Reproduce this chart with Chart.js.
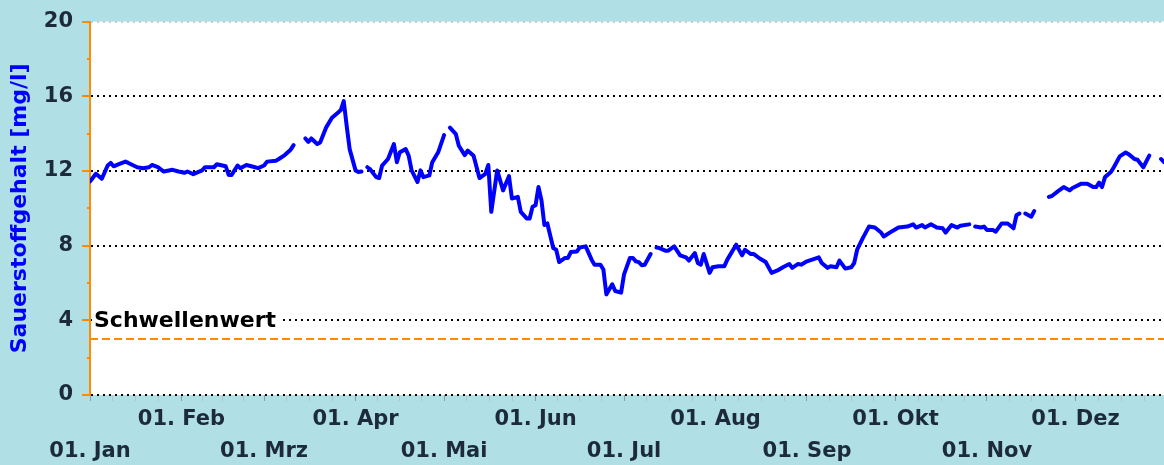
<!DOCTYPE html>
<html><head><meta charset="utf-8">
<script src="https://cdn.jsdelivr.net/npm/chart.js@4.4.1/dist/chart.umd.min.js"></script>
<style>html,body{margin:0;padding:0;background:#b0e0e6;} #wrap{width:1164px;height:465px;position:relative;}</style>
</head><body><div id="wrap"><canvas id="c"></canvas></div>
<script>
// Day of year (0 = 01. Jan) and measured oxygen content [mg/l]; null = no data (gap)
const days = [0,2,4,6,7,8,10,12,13,16,18,20,21,23,25,28,30,32,33,35,38,39,42,43,46,47,48,50,51,53,55,57,59,60,63,64,66,68,69,71,
73,74,75,77,78,80,82,84,85,86,87,88,90,91,92,93,
94,95,97,98,99,101,103,104,105,107,108,109,111,112,113,115,116,118,120,121,
122,124,125,127,128,130,132,134,135,136,138,140,142,143,145,146,148,149,150,151,152,153,154,155,157,158,159,161,162,163,165,166,168,170,171,173,174,175,177,178,180,181,183,184,185,186,187,188,190,191,
192,193,195,196,198,200,202,203,205,206,207,208,210,211,213,215,216,219,221,222,224,225,227,229,231,233,235,237,238,240,241,243,247,248,250,251,253,254,256,258,259,260,262,264,266,268,269,272,274,277,279,280,282,283,285,287,289,290,292,294,295,298,299,
300,302,303,304,306,307,309,311,313,314,315,316,
317,319,320,322,
325,326,328,330,332,333,336,338,340,341,342,343,344,346,347,349,351,352,354,355,357,359,360,
363,364];
const oxygen = [11.44,11.85,11.58,12.29,12.43,12.25,12.38,12.5,12.43,12.2,12.15,12.2,12.32,12.2,11.97,12.06,11.97,11.9,11.97,11.83,12.03,12.2,12.2,12.36,12.25,11.79,11.79,12.29,12.15,12.32,12.24,12.15,12.29,12.5,12.55,12.64,12.85,13.14,13.38,null,
13.74,13.56,13.74,13.44,13.53,14.32,14.85,15.12,15.26,15.74,14.41,13.17,12.03,11.94,11.97,null,
12.2,12.08,11.67,11.62,12.29,12.64,13.44,12.47,13.0,13.17,12.82,12.03,11.41,12.03,11.67,11.76,12.47,13.0,13.92,null,
14.32,13.97,13.35,12.85,13.09,12.82,11.62,11.85,12.32,9.81,12.03,10.96,11.72,10.52,10.61,9.81,9.46,9.46,10.08,10.16,11.14,10.44,9.11,9.19,7.87,7.78,7.12,7.34,7.34,7.66,7.69,7.9,7.96,7.25,6.98,6.98,6.72,5.39,5.93,5.57,5.48,6.46,7.34,7.34,7.16,7.12,6.95,6.98,7.55,null,
7.9,7.87,7.73,7.73,7.96,7.48,7.37,7.2,7.6,7.07,6.98,7.55,6.54,6.84,6.9,6.9,7.25,8.05,7.48,7.78,7.55,7.55,7.31,7.12,6.54,6.67,6.86,7.02,6.81,7.02,6.98,7.16,7.37,7.07,6.81,6.9,6.84,7.2,6.77,6.84,7.07,7.78,8.43,9.02,8.97,8.72,8.49,8.79,8.97,9.02,9.14,8.97,9.1,8.97,9.14,8.97,8.93,8.7,9.1,8.97,9.07,9.14,null,
9.02,8.97,9.02,8.84,8.84,8.75,9.19,9.19,8.93,9.63,9.72,null,
9.72,9.55,9.85,null,
10.61,10.66,10.91,11.14,10.96,11.09,11.32,11.32,11.14,11.14,11.37,11.14,11.67,11.94,12.2,12.78,12.99,12.9,12.64,12.6,12.2,12.82,null,
12.64,12.47];
const monthStartDays = [0,31,59,90,120,151,181,212,243,273,304,334];
const monthLengths = [31,28,31,30,31,30,31,31,30,31,30,31];
const monthLabels = ['01. Jan','01. Feb','01. Mrz','01. Apr','01. Mai','01. Jun','01. Jul','01. Aug','01. Sep','01. Okt','01. Nov','01. Dez'];
const yMin = 0, yMax = 20, yMinorStep = 2, yLabelStep = 4;
const xMin = 0, xMax = 364;
const thresholdValue = 3;
const thresholdLabel = 'Schwellenwert';
const thresholdLabelAt = 4;
const yAxisTitle = 'Sauerstoffgehalt [mg/l]';

const FONT = '"DejaVu Sans", Verdana, sans-serif';
const TXT = '#1c2a3b';
const ORANGE = '#ff8c00';

const bgPlugin = {
  id: 'bg',
  beforeDraw(chart) {
    const {ctx, chartArea: a} = chart;
    ctx.save();
    ctx.fillStyle = '#b0e0e6';
    ctx.fillRect(0, 0, chart.width, chart.height);
    ctx.fillStyle = '#ffffff';
    ctx.fillRect(a.left, a.top, a.right - a.left, a.bottom - a.top);
    ctx.restore();
  }
};
const labelPlugin = {
  id: 'thrLabel',
  afterDatasetsDraw(chart) {
    const {ctx, chartArea: a, scales} = chart;
    const y = scales.y.getPixelForValue(thresholdLabelAt);
    ctx.save();
    ctx.font = 'bold 22px ' + FONT;
    const w = ctx.measureText(thresholdLabel).width;
    ctx.fillStyle = '#ffffff';
    ctx.fillRect(a.left + 2, y - 8, w + 6, 16);
    ctx.fillStyle = '#000000';
    ctx.textBaseline = 'middle';
    ctx.fillText(thresholdLabel, a.left + 4, y + 1);
    ctx.restore();
  }
};

new Chart(document.getElementById('c'), {
  type: 'line',
  data: {
    datasets: [
      {
        data: days.map((d, i) => ({x: d, y: oxygen[i]})),
        borderColor: '#0000ff', borderWidth: 4, pointRadius: 0,
        spanGaps: false, tension: 0, borderJoinStyle: 'round', borderCapStyle: 'round'
      },
      {
        data: [{x: xMin, y: thresholdValue}, {x: xMax, y: thresholdValue}],
        borderColor: ORANGE, borderWidth: 2, borderDash: [8, 4], pointRadius: 0
      }
    ]
  },
  options: {
    responsive: true, maintainAspectRatio: false, animation: false, events: [],
    layout: {padding: {top: 18, left: 0, right: 0, bottom: 0}},
    plugins: {legend: {display: false}, tooltip: {enabled: false}},
    scales: {
      x: {
        type: 'linear', min: xMin, max: xMax,
        border: {display: false},
        grid: {
          drawOnChartArea: false, drawTicks: true, tickLength: 6, lineWidth: 1,
          tickColor: (c) => (c.tick && monthStartDays.includes(c.tick.value)) ? '#999999' : '#c0c0c0'
        },
        afterBuildTicks: (s) => {
          const t = [];
          monthStartDays.forEach((m, i) => {
            for (let q = 0; q < 4; q++) t.push({value: m + q * monthLengths[i] / 4});
          });
          s.ticks = t.filter(o => o.value <= xMax);
        },
        ticks: {
          autoSkip: false, maxRotation: 0, minRotation: 0, padding: 3, color: TXT,
          font: {family: FONT, weight: 'bold', size: 21, lineHeight: 32 / 21},
          callback: (v) => {
            const i = monthStartDays.indexOf(v);
            if (i < 0) return '';
            return i % 2 === 0 ? ['', monthLabels[i]] : monthLabels[i];
          }
        },
        afterFit: (s) => { s.height = 70; }
      },
      y: {
        type: 'linear', min: yMin, max: yMax, position: 'left',
        border: {display: true, color: ORANGE, width: 2, dash: [2, 4]},
        grid: {
          color: (c) => {
            const v = c.tick ? c.tick.value : 0;
            if (v % yLabelStep !== 0) return 'rgba(0,0,0,0)';
            if (v === yMax) return '#cccccc';
            return '#000000';
          },
          lineWidth: 2,
          tickLength: 8, tickColor: ORANGE, tickWidth: 2,
          tickBorderDash: (c) => (c.tick && c.tick.value % yLabelStep !== 0) ? [0, 5, 3, 100] : []
        },
        ticks: {
          stepSize: yMinorStep, padding: 9, color: TXT,
          font: {family: FONT, weight: 'bold', size: 21},
          callback: (v) => (v % yLabelStep === 0 ? String(v) : '')
        },
        title: {
          display: true, text: yAxisTitle, color: '#0000ff',
          font: {family: FONT, weight: 'bold', size: 22},
          padding: {top: 7, bottom: 0}
        },
        afterFit: (s) => { s.width = 90; }
      }
    }
  },
  plugins: [bgPlugin, labelPlugin]
});
</script></body></html>
